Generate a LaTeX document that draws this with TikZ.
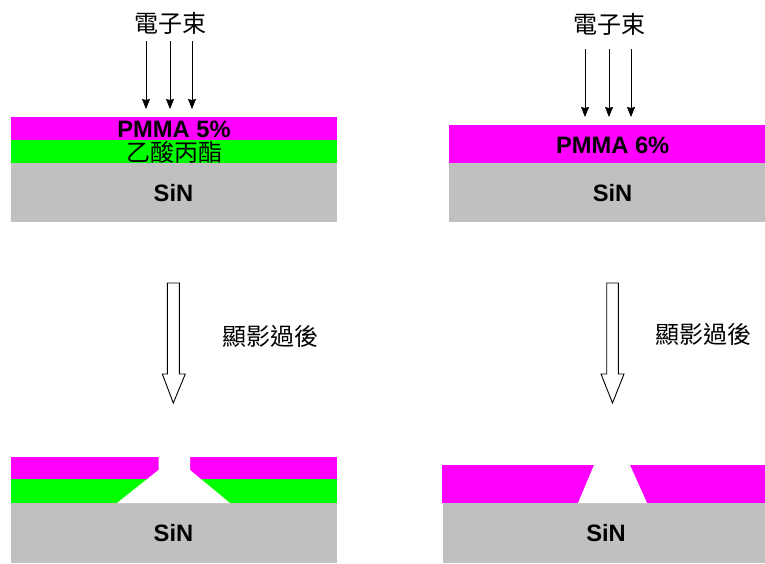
\documentclass[tikz,border=0pt]{standalone}
\usepackage{fontspec}
\setmainfont{Liberation Sans}
\newfontfamily\cjk{Noto Sans CJK TC}
\usetikzlibrary{arrows.meta}
\definecolor{pm}{RGB}{255,0,255}
\definecolor{gr}{RGB}{0,255,0}
\definecolor{sinc}{RGB}{192,192,192}
\tikzset{
 lbl/.style={font=\fontsize{23.7}{27}\selectfont\bfseries, inner sep=0},
 cjklbl/.style={font=\fontsize{24}{28}\selectfont\cjk, inner sep=0},
 beam/.style={-{Stealth[length=10pt,width=8pt,inset=1pt]}, line width=0.8pt},
 hollow/.style={draw=black, fill=white, line width=0.9pt, line join=miter},
}
\begin{document}
\begin{tikzpicture}[x=1pt,y=-1pt]
\useasboundingbox (0,0) rectangle (765,563);
% ---- top left stack
\fill[pm] (11,117) rectangle (337,140);
\fill[gr] (11,140) rectangle (337,163);
\fill[sinc] (11,163) rectangle (337,222);
\node[lbl] (pm5) at (174,129) {PMMA 5\%};
\node[cjklbl] (ea) at (174.5,152) {乙酸丙酯};
\node[lbl] (sin1) at (173.5,193.5) {SiN};
\node[cjklbl] (eb1) at (170,23) {電子束};
\coordinate (a1s) at (146,41); \coordinate (a1e) at (146,109);
\coordinate (a2s) at (170,41); \coordinate (a2e) at (170,109);
\coordinate (a3s) at (192,41); \coordinate (a3e) at (192,109);
\draw[beam] (a1s) -- (a1e);
\draw[beam] (a2s) -- (a2e);
\draw[beam] (a3s) -- (a3e);
% ---- top right stack
\fill[pm] (449,125) rectangle (765,163);
\fill[sinc] (449,163) rectangle (765,222);
\node[lbl] (pm6) at (612.7,145) {PMMA 6\%};
\node[lbl] (sin2) at (612.5,193.5) {SiN};
\node[cjklbl] (eb2) at (609,24) {電子束};
\coordinate (b1s) at (585,49); \coordinate (b1e) at (585,117);
\coordinate (b2s) at (609,49); \coordinate (b2e) at (609,117);
\coordinate (b3s) at (631,49); \coordinate (b3e) at (631,117);
\draw[beam] (b1s) -- (b1e);
\draw[beam] (b2s) -- (b2e);
\draw[beam] (b3s) -- (b3e);
% ---- hollow arrows
\draw[hollow] (167.3,283) -- (179.3,283) -- (179.3,374) -- (185.3,374) -- (173.3,403) -- (162.3,374) -- (167.3,374) -- cycle;
\draw[hollow] (606.7,283) -- (618.3,283) -- (618.3,374) -- (624,374) -- (612.5,403) -- (601,374) -- (606.7,374) -- cycle;
\node[cjklbl] (dev1) at (270,336) {顯影過後};
\node[cjklbl] (dev2) at (703,334) {顯影過後};
% ---- bottom left stack
\fill[pm] (11,457) rectangle (337,479);
\fill[gr] (11,479) rectangle (337,503);
\fill[sinc] (11,503) rectangle (337,563);
\fill[white] (158.5,457) -- (158.5,470) -- (117,503) -- (230,503) -- (190,470) -- (190,457) -- cycle;
\node[lbl] (sin3) at (173.5,533.5) {SiN};
% ---- bottom right stack
\fill[pm] (442,465) rectangle (765,503);
\fill[sinc] (443,503) rectangle (765,563);
\fill[white] (594,465) -- (630,465) -- (647,503) -- (578,503) -- cycle;
\node[lbl] (sin4) at (606,533.5) {SiN};
\end{tikzpicture}
\end{document}
